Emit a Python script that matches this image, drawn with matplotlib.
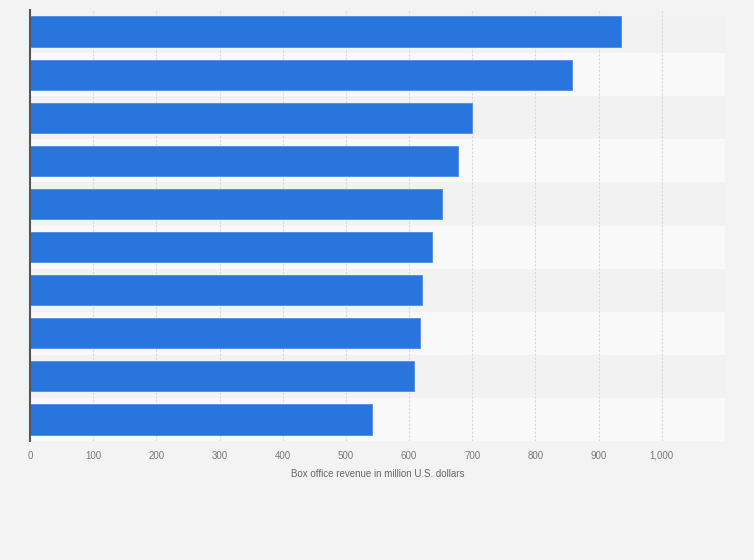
import matplotlib
matplotlib.use("Agg")
import matplotlib.pyplot as plt
import numpy as np

values = [936, 858, 699, 677, 652, 636, 621, 618, 607, 542]
xticks = [0, 100, 200, 300, 400, 500, 600, 700, 800, 900, 1000]
xticklabels = ["0", "100", "200", "300", "400", "500", "600", "700", "800", "900", "1,000"]
xlabel = "Box office revenue in million U.S. dollars"

plt.rcParams['font.family'] = ['Liberation Sans', 'DejaVu Sans']

fig = plt.figure(figsize=(7.54, 5.60), dpi=100)
fig.patch.set_facecolor('#f3f3f3')
ax = fig.add_axes([30/754, 1-441/560, (725-30)/754, (441-10)/560])
ax.set_facecolor('#f3f3f3')

n = len(values)
y = np.arange(n)
# alternating bands
for i in range(n):
    color = '#f2f2f2' if i % 2 == 0 else '#f9f9f9'
    ax.axhspan(i - 0.5, i + 0.5, color=color, zorder=0, lw=0)

ax.barh(y, values, height=0.7, color='#2876dd', edgecolor='#4a8ce6', linewidth=0.6, zorder=3)

ax.set_xlim(0, 1100)
ax.set_ylim(n - 0.5, -0.5)
ax.set_xticks(xticks + [1100])
ax.set_xticklabels(xticklabels + [""])
ax.tick_params(axis='x', length=0, pad=7, labelsize=7, labelcolor='#777777')
ax.set_yticks([])
ax.grid(axis='x', color='#dadada', linestyle=(0, (2, 1.5)), linewidth=0.8, zorder=1)
ax.set_axisbelow(True)

for s in ['top', 'right', 'bottom']:
    ax.spines[s].set_visible(False)
ax.spines['left'].set_color('#555555')
ax.spines['left'].set_linewidth(1.5)
ax.spines['left'].set_zorder(4)

ax.set_xlabel(xlabel, fontsize=7, color='#666666', labelpad=6)

fig.savefig("out.png", dpi=100, facecolor=fig.get_facecolor())
